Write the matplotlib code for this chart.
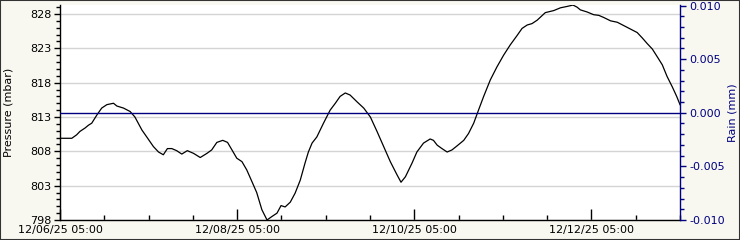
import matplotlib
matplotlib.use("Agg")
import matplotlib.pyplot as plt
import matplotlib.dates as mdates
from matplotlib.ticker import FixedLocator, MultipleLocator, FormatStrFormatter
import numpy as np
import pandas as pd

start_time = "2025-12-06 05:00"
hours = [0.0, 3.2, 4.5, 5.4, 6.8, 7.7, 8.6, 10.0, 11.3, 12.7, 14.5, 15.4, 17.2, 19.0, 20.3,
         22.2, 23.5, 25.3, 26.7, 28.0, 29.1, 30.3, 31.6, 33.0, 34.5, 36.2, 38.0, 39.8, 41.1,
         42.5, 44.1, 45.4, 46.6, 47.9, 49.3, 50.6, 52.0, 53.3, 54.7, 56.1, 57.4, 58.8, 59.9,
         61.0, 62.4, 63.7, 65.1, 66.4, 67.3, 68.3, 69.6, 71.4, 73.2, 74.6, 75.9, 77.3, 78.6,
         80.5, 82.3, 84.1, 85.9, 87.7, 89.5, 91.3, 92.4, 93.6, 95.4, 96.7, 98.5, 100.3, 101.2,
         102.2, 103.5, 104.9, 106.2, 107.6, 109.4, 110.7, 112.1, 113.4, 114.8, 116.6, 118.4,
         120.2, 122.0, 123.9, 125.2, 126.6, 127.9, 129.3, 131.5, 133.8, 135.6, 137.4, 139.0,
         140.1, 141.0, 142.8, 144.6, 146.0, 147.3, 149.2, 151.0, 152.8, 154.6, 156.4, 157.8,
         159.1, 160.5, 161.8, 163.2, 164.5, 165.9, 167.1, 168.0]
pressure = [809.9, 809.9, 810.4, 810.9, 811.4, 811.8, 812.1, 813.3, 814.3, 814.8, 815.0, 814.6,
            814.3, 813.8, 813.0, 811.1, 810.1, 808.7, 807.9, 807.5, 808.4, 808.4, 808.1, 807.6,
            808.1, 807.7, 807.1, 807.7, 808.2, 809.3, 809.6, 809.3, 808.2, 807.0, 806.5, 805.3,
            803.6, 802.0, 799.5, 798.0, 798.5, 799.0, 800.1, 799.9, 800.6, 801.9, 803.8, 806.3,
            807.9, 809.2, 810.1, 812.1, 814.0, 815.0, 816.0, 816.5, 816.2, 815.2, 814.3, 813.0,
            810.9, 808.7, 806.5, 804.6, 803.5, 804.3, 806.3, 807.9, 809.2, 809.8, 809.6, 808.9,
            808.4, 807.9, 808.2, 808.8, 809.6, 810.6, 812.1, 814.0, 816.0, 818.4, 820.3, 822.0,
            823.5, 824.9, 825.9, 826.4, 826.6, 827.1, 828.2, 828.5, 828.9, 829.1, 829.3, 829.0,
            828.6, 828.3, 827.9, 827.8, 827.5, 827.0, 826.8, 826.3, 825.8, 825.3, 824.5, 823.7,
            822.9, 821.8, 820.6, 818.9, 817.4, 816.0, 814.8]
rain = [0.0] * len(hours)

major_tick_hours = [0, 48, 96, 144]
minor_tick_step_hours = 12
total_hours = 168
pressure_ticks = [798, 803, 808, 813, 818, 823, 828]
rain_ticks = [-0.010, -0.005, 0.000, 0.005, 0.010]

t0 = pd.Timestamp(start_time)
times = [t0 + pd.Timedelta(hours=h) for h in hours]

BG = "#f8f8f0"
NAVY = "#000080"

fig = plt.figure(figsize=(7.4, 2.4), dpi=100, facecolor=BG)
W, H = 740, 240
ax = fig.add_axes([60 / W, 20 / H, 620 / W, 215 / H])
ax.set_facecolor("white")

ax.plot(times, pressure, color="black", lw=0.9, zorder=3, clip_on=True)
ax.set_ylim(798, 829.31)
ax.set_xlim(mdates.date2num(t0), mdates.date2num(t0 + pd.Timedelta(hours=total_hours)))

ax.yaxis.set_major_locator(FixedLocator(pressure_ticks))
ax.yaxis.set_minor_locator(MultipleLocator(1))
ax.yaxis.set_major_formatter(FormatStrFormatter("%d"))
ax.grid(axis="y", which="major", color="#d4d4d4", lw=1)
ax.set_axisbelow(True)

maj = [mdates.date2num(t0 + pd.Timedelta(hours=h)) for h in major_tick_hours]
mino = [mdates.date2num(t0 + pd.Timedelta(hours=h))
        for h in range(0, total_hours + 1, minor_tick_step_hours)]
ax.xaxis.set_major_locator(FixedLocator(maj))
ax.xaxis.set_minor_locator(FixedLocator(mino))
ax.xaxis.set_major_formatter(mdates.DateFormatter("%m/%d/%y %H:%M"))

ax.tick_params(axis="x", which="major", direction="in", length=8, width=1, labelsize=8, pad=3.5)
ax.tick_params(axis="x", which="minor", direction="in", length=3.5, width=1)
ax.tick_params(axis="y", which="major", direction="out", length=4, width=1, labelsize=8, pad=2)
ax.tick_params(axis="y", which="minor", direction="out", length=3, width=1)

for s in ["top", "right"]:
    ax.spines[s].set_visible(False)
ax.spines["left"].set_linewidth(1)
ax.spines["bottom"].set_linewidth(1)

ax.set_ylabel("Pressure (mbar)", fontsize=8)
ax.yaxis.label.set_va("center")
ax.yaxis.set_label_coords(-51 / 620, 0.5)

ax2 = ax.twinx()
ax2.plot(times, rain, color=NAVY, lw=1, zorder=2)
ax2.set_ylim(-0.010, 0.01005)
ax2.yaxis.set_major_locator(FixedLocator(rain_ticks))
ax2.yaxis.set_minor_locator(MultipleLocator(0.001))
ax2.yaxis.set_major_formatter(FormatStrFormatter("%.3f"))
ax2.tick_params(axis="y", which="major", direction="out", length=4, width=1,
                colors=NAVY, labelsize=8, pad=3)
ax2.tick_params(axis="y", which="minor", direction="out", length=3, width=1, colors=NAVY)
for s in ["top", "left", "bottom"]:
    ax2.spines[s].set_visible(False)
ax2.spines["right"].set_color(NAVY)
ax2.spines["right"].set_linewidth(1)
ax2.set_ylabel("Rain (mm)", fontsize=8, color=NAVY)
ax2.yaxis.label.set_va("center")
ax2.yaxis.set_label_coords(1 + 52 / 620, 0.5)

fig.patches.append(plt.Rectangle((0, 0), 1, 1, transform=fig.transFigure,
                                 fill=False, edgecolor="#333333", lw=1.5))

fig.savefig("out.png", dpi=100, facecolor=BG)
